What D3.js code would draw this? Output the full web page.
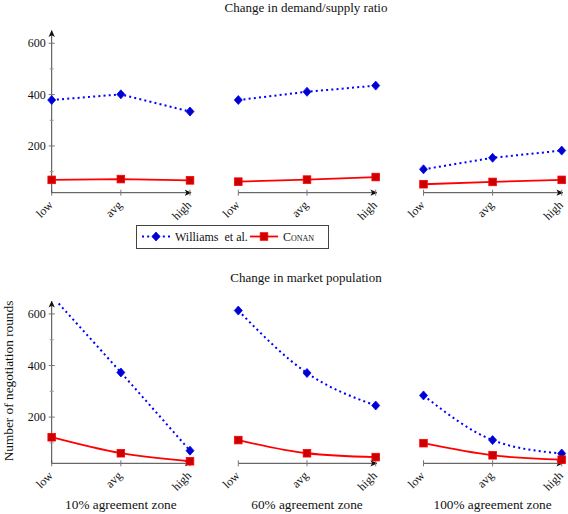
<!DOCTYPE html>
<html><head><meta charset="utf-8">
<script src="https://cdn.jsdelivr.net/npm/d3@7"></script>
<style>html,body{margin:0;padding:0;background:#fff;}</style>
</head><body>
<svg id="c" width="568" height="514"></svg>
<script>
const categories = ["low", "avg", "high"];
const zones = ["10% agreement zone", "60% agreement zone", "100% agreement zone"];
const rowTitles = ["Change in demand/supply ratio", "Change in market population"];
const yTicks = [200, 400, 600];
const yMinorTicks = [100, 300, 500];
const seriesNames = ["Williams  et al.", "Conan"];
// [panel][category]
const demandWilliams = [[379, 401, 334], [379, 411, 435], [109, 154, 182]];
const demandConan = [[68, 71, 66], [61, 69, 79], [51, 60, 68]];
const popWilliams = [[670, 373, 70], [613, 371, 245], [284, 111, 59]];
const popConan = [[122, 60, 29], [111, 60, 45], [99, 52, 35]];

const FONT = "'Liberation Serif','Times New Roman',serif";
const svg = d3.select("#c");
const axisColor = "#444";
const blue = "#0000ff", blueFill = "#0000cc", red = "#ff0000", redFill = "#cc0000";

const defs = svg.append("defs");
defs.append("marker").attr("id", "arr").attr("viewBox", "0 0 10 10").attr("refX", 9).attr("refY", 5)
  .attr("markerWidth", 7).attr("markerHeight", 7).attr("markerUnits", "userSpaceOnUse").attr("orient", "auto")
  .append("path").attr("d", "M0,0.5 L10,5 L0,9.5 L2.5,5 Z").attr("fill", "#111");

function txt(sel) { return sel.append("text").attr("font-family", FONT).attr("fill", "#111"); }

const panelX = [[51.7, 190], [238.3, 375.7], [423.5, 561.7]];
const rows = [
  {title: rowTitles[0], base: 192.7, dom: [18, 645], w: demandWilliams, c: demandConan, titleY: 12},
  {title: rowTitles[1], base: 463.3, dom: [21, 645], w: popWilliams, c: popConan, titleY: 282}
];
const plotH = 161;

rows.forEach((row, ri) => {
  const y = d3.scaleLinear().domain(row.dom).range([row.base, row.base - plotH]);
  txt(svg).attr("x", 306).attr("y", row.titleY).attr("text-anchor", "middle")
    .attr("font-size", 13).text(row.title);

  panelX.forEach((px, pi) => {
    const x = d3.scalePoint().domain(categories).range(px);
    const g = svg.append("g");
    const clipId = `clip${ri}${pi}`;
    defs.append("clipPath").attr("id", clipId).append("rect")
      .attr("x", px[0] - 10).attr("y", row.base - plotH).attr("width", px[1] - px[0] + 20).attr("height", plotH + 20);

    g.append("line").attr("x1", px[0]).attr("x2", px[1] + 1).attr("y1", row.base).attr("y2", row.base)
      .attr("stroke", axisColor).attr("stroke-width", 1).attr("marker-end", "url(#arr)");
    categories.forEach(cat => {
      g.append("line").attr("x1", x(cat)).attr("x2", x(cat)).attr("y1", row.base - 3).attr("y2", row.base + 3)
        .attr("stroke", "#777").attr("stroke-width", 1);
      txt(g).attr("transform", `translate(${x(cat) + 2},${row.base + 13}) rotate(-45)`)
        .attr("text-anchor", "end").attr("font-size", 12).text(cat);
    });

    if (pi === 0) {
      g.append("line").attr("x1", px[0]).attr("x2", px[0]).attr("y1", row.base).attr("y2", row.base - plotH - 1)
        .attr("stroke", axisColor).attr("stroke-width", 1).attr("marker-end", "url(#arr)");
      yTicks.forEach(t => {
        g.append("line").attr("x1", px[0] - 3).attr("x2", px[0] + 3).attr("y1", y(t)).attr("y2", y(t))
          .attr("stroke", "#777");
        txt(g).attr("x", px[0] - 6).attr("y", y(t)).attr("dy", "0.35em").attr("text-anchor", "end")
          .attr("font-size", 12).text(t);
      });
      yMinorTicks.forEach(t => {
        g.append("line").attr("x1", px[0] - 2).attr("x2", px[0] + 2).attr("y1", y(t)).attr("y2", y(t))
          .attr("stroke", "#999");
      });
    }

    const curve = ri === 1 ? d3.curveMonotoneX : d3.curveLinear;
    const line = d3.line().x((d, i) => x(categories[i])).y(d => y(d)).curve(curve);
    const inDom = v => v <= row.dom[1];

    g.append("path").datum(row.w[pi]).attr("d", line).attr("clip-path", `url(#${clipId})`)
      .attr("fill", "none").attr("stroke", blue).attr("stroke-width", 2).attr("stroke-dasharray", "2,3.2");
    g.append("path").datum(row.c[pi]).attr("d", line).attr("fill", "none").attr("stroke", red).attr("stroke-width", 1.8);

    row.w[pi].forEach((v, i) => {
      if (!inDom(v)) return;
      const cx = x(categories[i]), cy = y(v);
      g.append("path").attr("d", `M${cx},${cy - 4.5}L${cx + 4},${cy}L${cx},${cy + 4.5}L${cx - 4},${cy}Z`)
        .attr("fill", blueFill).attr("stroke", blue).attr("stroke-width", 0.8);
    });
    row.c[pi].forEach((v, i) => {
      const cx = x(categories[i]), cy = y(v);
      g.append("rect").attr("x", cx - 3.8).attr("y", cy - 3.8).attr("width", 7.6).attr("height", 7.6)
        .attr("fill", redFill).attr("stroke", red).attr("stroke-width", 0.8);
    });

    if (ri === 1) {
      txt(svg).attr("x", (px[0] + px[1]) / 2).attr("y", 509).attr("text-anchor", "middle")
        .attr("font-size", 13.3).text(zones[pi]);
    }
  });
});

txt(svg).attr("transform", "translate(12.5,381) rotate(-90)").attr("text-anchor", "middle")
  .attr("font-size", 13.3).text("Number of negotiation rounds");

const lg = svg.append("g");
lg.append("rect").attr("x", 136.5).attr("y", 225.5).attr("width", 192).attr("height", 23)
  .attr("fill", "#fff").attr("stroke", "#444").attr("stroke-width", 1);
const ly = 236.5;
lg.append("line").attr("x1", 142).attr("x2", 170).attr("y1", ly).attr("y2", ly)
  .attr("stroke", blue).attr("stroke-width", 2).attr("stroke-dasharray", "2,3.2");
lg.append("path").attr("d", `M156,${ly - 4.5}L160,${ly}L156,${ly + 4.5}L152,${ly}Z`)
  .attr("fill", blueFill).attr("stroke", blue).attr("stroke-width", 0.8);
txt(lg).attr("x", 175).attr("y", ly).attr("dy", "0.35em").attr("font-size", 12)
  .attr("xml:space", "preserve").style("white-space", "pre").text(seriesNames[0]);
lg.append("line").attr("x1", 250).attr("x2", 278).attr("y1", ly).attr("y2", ly)
  .attr("stroke", red).attr("stroke-width", 1.8);
lg.append("rect").attr("x", 264 - 3.8).attr("y", ly - 3.8).attr("width", 7.6).attr("height", 7.6)
  .attr("fill", redFill).attr("stroke", red).attr("stroke-width", 0.8);
txt(lg).attr("x", 283).attr("y", ly).attr("dy", "0.35em").attr("font-size", 12)
  .style("font-variant", "small-caps").text(seriesNames[1]);
</script>
</body></html>
